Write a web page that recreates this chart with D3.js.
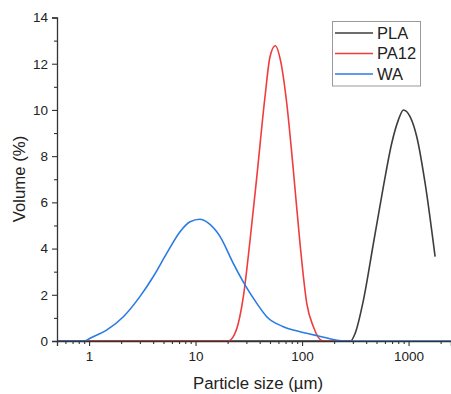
<!DOCTYPE html>
<html lang="en">
<head>
  <meta charset="UTF-8">
  <title>Particle size distribution</title>
  <script src="https://cdn.jsdelivr.net/npm/d3@7"></script>
  <style>
    body { margin: 0; background: #fff; }
    text { font-family: "Liberation Sans", Arial, sans-serif; fill: #222; }
  </style>
</head>
<body>
  <div id="chart"></div>

  <script>
    // Data (size in µm, volume in %)
    var plaSize = [0.5, 286, 315, 377, 468, 580, 695, 803, 895, 1033, 1194, 1430, 1775];
    var plaVol  = [0, 0, 0.33, 1.77, 4.23, 6.68, 8.56, 9.57, 10.0, 9.71, 8.84, 6.83, 3.65];

    var pa12Size = [0.5, 20.2, 22.6, 25.2, 28.1, 32.5, 37.6, 44.9, 50, 56, 63, 71.8, 82.8, 95.6, 110.7, 127.7, 157, 300];
    var pa12Vol  = [0, 0, 0.19, 0.77, 1.92, 4.37, 7.11, 10.58, 12.3, 12.78, 12.1, 10.29, 7.4, 4.23, 1.63, 0.62, 0, 0];

    var waSize = [0.5, 0.91, 1.02, 1.47, 2.1, 3.0, 4.0, 5.37, 7.15, 8.88, 11.0, 13.2, 17, 22.6, 29.2, 37.6, 46.6, 66.7, 95.6, 142, 253, 2500];
    var waVol  = [0, 0, 0.12, 0.48, 1.05, 1.92, 2.78, 3.8, 4.73, 5.16, 5.27, 5.1, 4.52, 3.36, 2.42, 1.63, 1.05, 0.62, 0.40, 0.22, 0, 0];

    var seriesNames = ["PLA", "PA12", "WA"];
    var seriesColors = ["#3d3d3d", "#f03c3c", "#2b7be4"];

    var xMajor = [1, 10, 100, 1000];
    var xMinor = [0.6, 0.7, 0.8, 0.9, 2, 3, 4, 5, 6, 7, 8, 9, 20, 30, 40, 50, 60, 70, 80, 90,
                  200, 300, 400, 500, 600, 700, 800, 900, 2000];
    var yMajor = [0, 2, 4, 6, 8, 10, 12, 14];
    var yMinor = [1, 3, 5, 7, 9, 11, 13];

    var W = 451, H = 394;
    var svg = d3.select("#chart").append("svg")
      .attr("width", W).attr("height", H);

    var x = d3.scaleLog().domain([0.5, 2500]).range([57, 57 + Math.log10(5000) * 106.5]);
    var y = d3.scaleLinear().domain([0, 14]).range([341, 17.5]);

    var series = [
      { name: "PLA", values: plaSize.map((s, i) => ({ x: s, y: plaVol[i] })) },
      { name: "PA12", values: pa12Size.map((s, i) => ({ x: s, y: pa12Vol[i] })) },
      { name: "WA", values: waSize.map((s, i) => ({ x: s, y: waVol[i] })) }
    ];

    svg.append("clipPath").attr("id", "clip")
      .append("rect").attr("x", 57).attr("y", 0).attr("width", W - 57).attr("height", 342);

    // Lines
    var line = d3.line()
      .x(d => x(d.x))
      .y(d => y(d.y))
      .curve(d3.curveMonotoneX);

    svg.append("g").attr("clip-path", "url(#clip)")
      .selectAll("path")
      .data(series)
      .enter().append("path")
      .attr("fill", "none")
      .attr("stroke", (d, i) => seriesColors[i])
      .attr("stroke-width", 1.6)
      .attr("stroke-linejoin", "round")
      .attr("d", d => line(d.values));

    // X axis
    svg.append("g")
      .attr("transform", "translate(0,341)")
      .call(d3.axisBottom(x).tickValues(xMajor).tickFormat(d3.format("d")).tickSize(5).tickPadding(5));
    svg.append("g")
      .attr("transform", "translate(0,341)")
      .call(d3.axisBottom(x).tickValues(xMinor).tickFormat("").tickSize(3))
      .select(".domain").remove();

    // Y axis
    svg.append("g")
      .attr("transform", "translate(57,0)")
      .call(d3.axisLeft(y).tickValues(yMajor).tickSize(5).tickPadding(4));
    svg.append("g")
      .attr("transform", "translate(57,0)")
      .call(d3.axisLeft(y).tickValues(yMinor).tickFormat("").tickSize(3))
      .select(".domain").remove();

    svg.selectAll(".domain").attr("stroke", "#333").attr("stroke-width", 1.3);
    svg.selectAll(".tick line").attr("stroke", "#333").attr("stroke-width", 1.1);
    svg.selectAll(".tick text").style("font-size", "13.5px").attr("fill", "#222")
      .style("font-family", "'Liberation Sans', Arial, sans-serif");

    // Axis titles
    svg.append("text")
      .attr("x", 258).attr("y", 389)
      .attr("text-anchor", "middle")
      .style("font-size", "16.8px")
      .text("Particle size (µm)");

    svg.append("text")
      .attr("transform", "translate(25,179) rotate(-90)")
      .attr("text-anchor", "middle")
      .style("font-size", "16.8px")
      .text("Volume (%)");

    // Legend
    var legend = svg.append("g");
    legend.append("rect")
      .attr("x", 332.5).attr("y", 21.5).attr("width", 88).attr("height", 64.5)
      .attr("fill", "#fff").attr("stroke", "#999").attr("stroke-width", 1);
    seriesNames.forEach(function (name, i) {
      var ly = 33 + i * 20.5;
      legend.append("line")
        .attr("x1", 335).attr("x2", 373).attr("y1", ly).attr("y2", ly)
        .attr("stroke", seriesColors[i]).attr("stroke-width", 1.6);
      legend.append("text")
        .attr("x", 377).attr("y", ly).attr("dy", "0.36em")
        .style("font-size", "16.5px")
        .text(name);
    });
  </script>
</body>
</html>
